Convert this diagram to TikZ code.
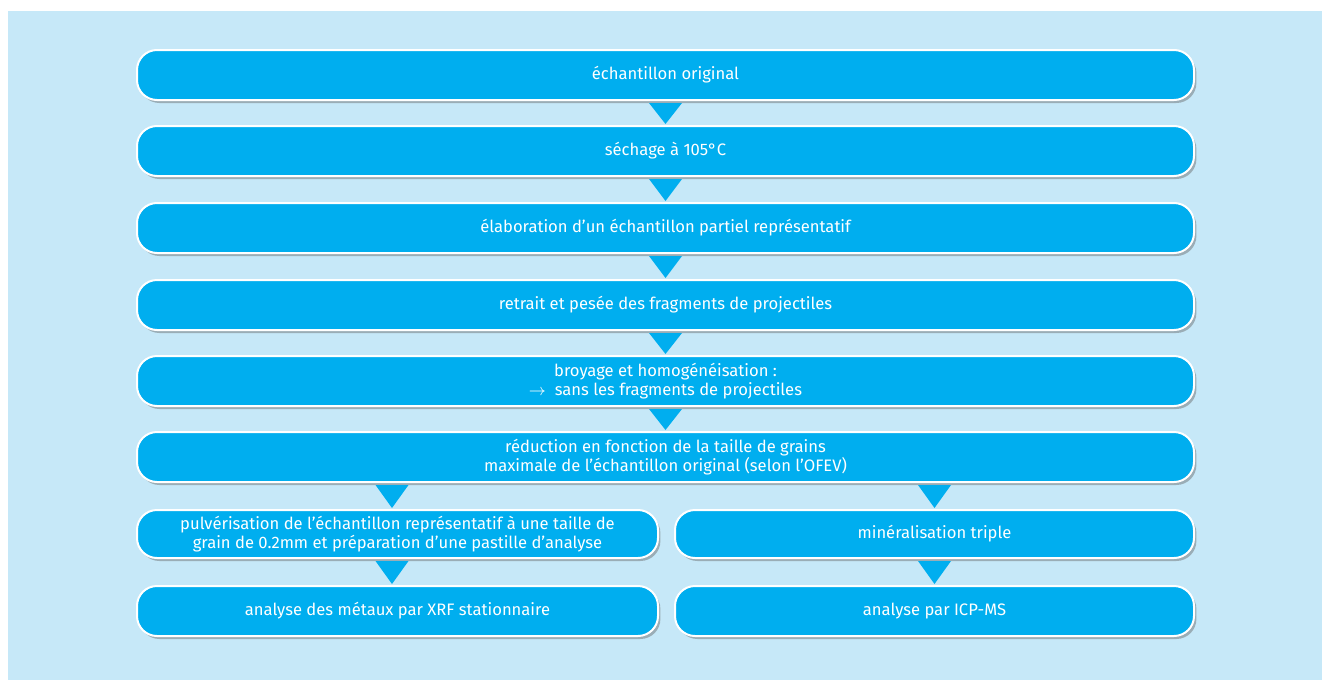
\documentclass[tikz,border=0pt]{standalone}
\usepackage{fontspec}
\setmainfont{Fira Sans}
\usetikzlibrary{shapes.geometric, shadows, calc, positioning}
\definecolor{bleu}{HTML}{00AEEF}
\definecolor{fond}{HTML}{C6E8F8}
\tikzset{
  etape/.style={draw=white, line width=1pt, fill=bleu, rounded corners=10pt,
    minimum height=25pt, inner sep=0pt, text=white, align=center,
    font=\fontsize{8.3}{9.6}\selectfont,
    drop shadow={shadow xshift=1.2pt, shadow yshift=-1.5pt, opacity=0.45, fill=black!60}},
  fleche/.style={fill=bleu}
}
\begin{document}
\begin{tikzpicture}[x=0.5pt,y=-0.5pt]
\useasboundingbox (0,0) rectangle (1322,680);
\fill[fond] (8,11) rectangle (1322,680);
% colonne principale
\node[etape,minimum width=528.5pt] (n0) at (665.5,75) {échantillon original};
\node[etape,minimum width=528.5pt] (n1) at (665.5,151) {séchage à 105°C};
\node[etape,minimum width=528.5pt] (n2) at (665.5,228) {élaboration d’un échantillon partiel représentatif};
\node[etape,minimum width=528.5pt] (n3) at (665.5,305) {retrait et pesée des fragments de projectiles};
\node[etape,minimum width=528.5pt] (n4) at (665.5,381) {broyage et homogénéisation :\\$\rightarrow$\ \ sans les fragments de projectiles};
\node[etape,minimum width=528.5pt] (n5) at (665.5,457) {réduction en fonction de la taille de grains\\maximale de l’échantillon original (selon l’OFEV)};
% deux branches
\node[etape,minimum width=260.5pt,minimum height=24pt] (n6) at (397.5,534) {pulvérisation de l’échantillon représentatif à une taille de\\grain de 0.2mm et préparation d’une pastille d’analyse};
\node[etape,minimum width=259.5pt,minimum height=24pt] (n7) at (934.5,534) {minéralisation triple};
\node[etape,minimum width=260.5pt] (n8) at (397.5,611) {analyse des métaux par XRF stationnaire};
\node[etape,minimum width=259.5pt] (n9) at (934.5,611) {analyse par ICP-MS};
% fleches
\foreach \a/\b/\d in {n0/n1/0,n1/n2/0,n2/n3/0,n3/n4/0,n4/n5/0,n6/n8/-2.75,n7/n9/0}
  \fill[fleche] ($(\a.south)+(\d pt-8.25pt,-1pt)$) -- ($(\a.south)+(\d pt+8.25pt,-1pt)$) -- ($(\b.north)+(\d pt,0.5pt)$) -- cycle;
\foreach \b/\d in {n6/-2.75,n7/0}
  \fill[fleche] ($(n5.south -| \b.north)+(\d pt-8.25pt,-1pt)$) -- ($(n5.south -| \b.north)+(\d pt+8.25pt,-1pt)$) -- ($(\b.north)+(\d pt,0.5pt)$) -- cycle;
\end{tikzpicture}
\end{document}
